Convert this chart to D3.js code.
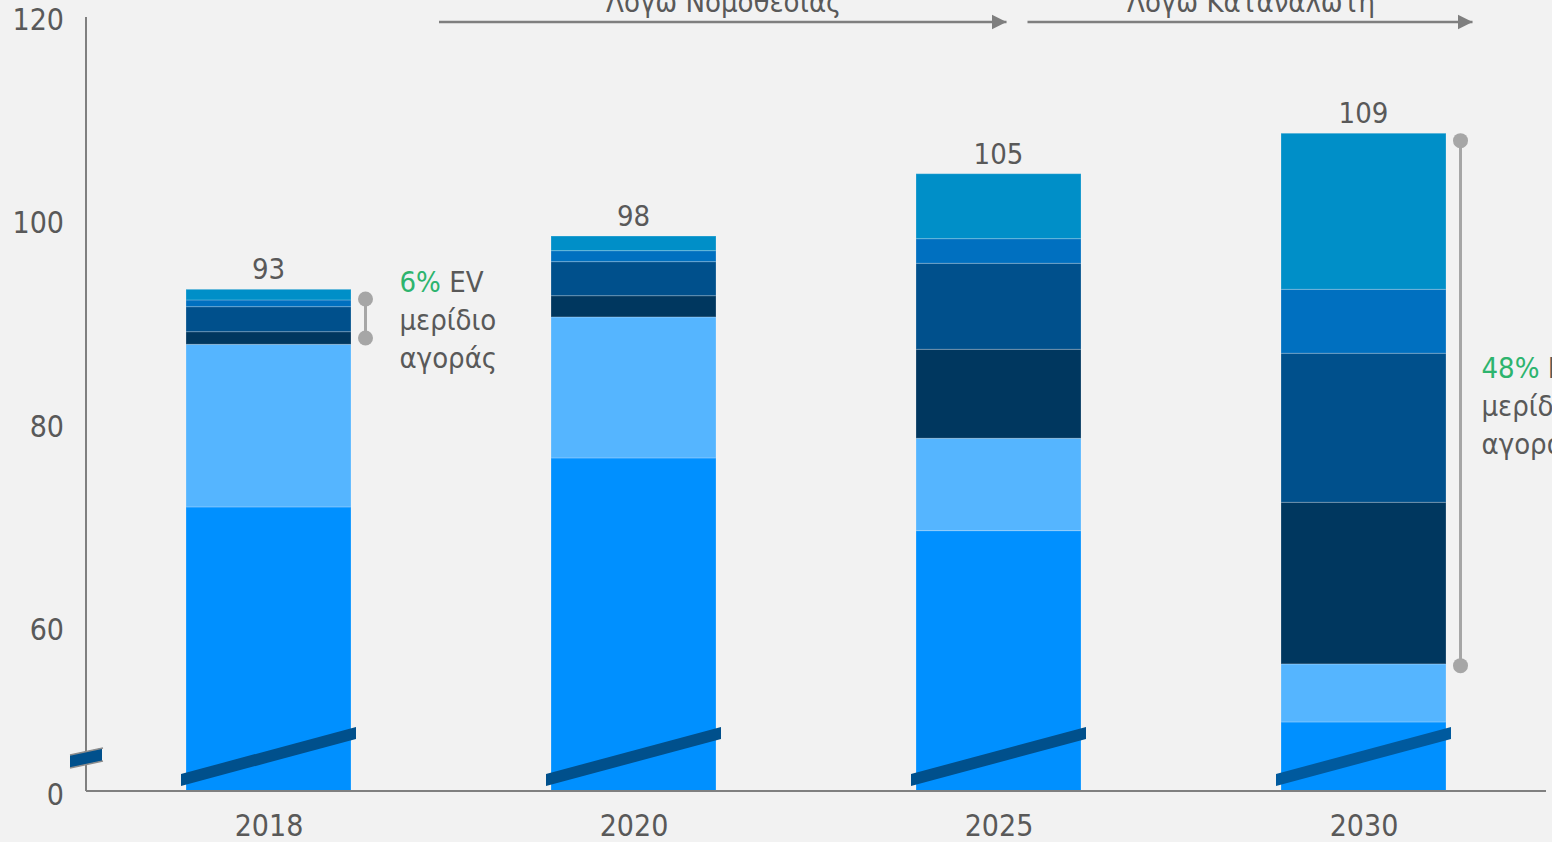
<!DOCTYPE html>
<html><head><meta charset="utf-8">
<script src="https://cdn.jsdelivr.net/npm/d3@7"></script>
<style>
html,body{margin:0;padding:0;background:#F2F2F2;overflow:hidden}
svg{display:block}
text{font-family:"DejaVu Sans Condensed","DejaVu Sans",sans-serif;font-stretch:condensed;fill:#595959}
</style></head><body>
<svg id="chart" width="1552" height="842"></svg>
<script>
// ---- data ----
const years = ["2018","2020","2025","2030"];
const totalLabels = ["93","98","105","109"];
const s1 = [72.10, 76.92, 69.77, 50.95];   // bottom
const s2 = [16.00, 13.87, 9.09, 5.71];
const s3 = [1.24, 2.09, 8.75, 15.90];
const s4 = [2.46, 3.35, 8.46, 14.66];
const s5 = [0.66, 1.08, 2.42, 6.29];
const s6 = [1.05, 1.44, 6.39, 15.35];      // top
const seriesList = [s1,s2,s3,s4,s5,s6];
const seriesColors = ["#0090FF","#55B5FF","#00375F","#00508C","#0070C0","#008FC8"];
const yTicks = [60,80,100,120];
const zeroLabel = "0";
const axisMin = 44.16, axisMax = 120;
const evShares = [{year:"2018", pct:"6%", low:88.72, high:92.56, textTop:93.25},
                  {year:"2030", pct:"48%", low:56.49, high:108.13, textTop:84.79}];
const evWords = ["EV","μερίδιο","αγοράς"];
const headerTexts = ["Λόγω Νομοθεσίας","Λόγω Καταναλωτή"];

(function(){
// ---- layout ----
const W = 1552, H = 842;
const mLeft = 86, mRight = 1546, mTop = 20, base = 791;
const svg = d3.select("#chart");
svg.append("rect").attr("width",W).attr("height",H).attr("fill","#F2F2F2");

const x = d3.scalePoint().domain(years).range([mLeft,mRight]).padding(0.5);
const barW = 165;
const y = d3.scaleLinear().domain([axisMin,axisMax]).range([base,mTop]).clamp(true);

const rows = years.map((yr,i)=>{const o={year:yr}; seriesList.forEach((s,j)=>o["s"+j]=s[i]); return o;});
const keys = seriesList.map((s,j)=>"s"+j);
const stacked = d3.stack().keys(keys)(rows);

// bars
const g = svg.append("g");
stacked.forEach((layer,j)=>{
  g.selectAll(null).data(layer).enter().append("rect")
    .attr("x",d=>x(d.data.year)-barW/2)
    .attr("width",barW)
    .attr("y",d=>y(d[1]))
    .attr("height",d=>y(d[0])-y(d[1]))
    .attr("fill",seriesColors[j])
    .attr("stroke","rgba(255,255,255,0.22)").attr("stroke-width",1);
});

// axes
const axisColor = "#808080";
svg.append("line").attr("x1",mLeft).attr("x2",mRight).attr("y1",base).attr("y2",base)
  .attr("stroke",axisColor).attr("stroke-width",2);
svg.append("line").attr("x1",mLeft).attr("x2",mLeft).attr("y1",mTop-3).attr("y2",base)
  .attr("stroke",axisColor).attr("stroke-width",2);

const yAxis = d3.axisLeft(y).tickValues(yTicks).tickSize(0).tickPadding(22);
const ya = svg.append("g").attr("transform",`translate(${mLeft},0)`).call(yAxis);
ya.select(".domain").remove();
ya.attr("font-family",null).attr("font-size",null);
ya.selectAll("text").style("font-size","30px").attr("fill","#595959");
svg.append("text").attr("x",mLeft-22).attr("y",base+14).attr("text-anchor","end")
  .style("font-size","30px").text(zeroLabel);

const xAxis = d3.axisBottom(x).tickSize(0).tickPadding(20);
const xa = svg.append("g").attr("transform",`translate(0,${base})`).call(xAxis);
xa.select(".domain").remove();
xa.attr("font-family",null).attr("font-size",null);
xa.selectAll("text").style("font-size","30px").attr("fill","#595959")
  .attr("dy",null).attr("y",45);

// break mark on axis
svg.append("polygon")
  .attr("points",[[mLeft-16,base-36],[mLeft+16,base-43],[mLeft+16,base-30],[mLeft-16,base-23]].map(p=>p.join(",")).join(" "))
  .attr("fill","#00508C");
[[-36,-43],[-23,-30]].forEach(([a,b])=>{
  svg.append("line").attr("x1",mLeft-16).attr("y1",base+a).attr("x2",mLeft+17).attr("y2",base+b)
    .attr("stroke","#8C8C8C").attr("stroke-width",1.5);
});

// break strips on bars
years.forEach((yr,i)=>{
  const x0 = x(yr)-barW/2-5, x1 = x(yr)+barW/2+5;
  svg.append("polygon")
    .attr("points",[[x0,base-17],[x1,base-64],[x1,base-52],[x0,base-5]].map(p=>p.join(",")).join(" "))
    .attr("fill", i===3 ? "#005A9E" : "#00508C");
});

// total labels
svg.selectAll(".tot").data(years).enter().append("text")
  .attr("x",d=>x(d)).attr("y",(d,i)=>y(d3.sum(seriesList,s=>s[i]))-10)
  .attr("text-anchor","middle").style("font-size","29px")
  .text((d,i)=>totalLabels[i]);

// EV share brackets
const textGaps = [34, 21];
evShares.forEach((a,k)=>{
  const bx = x(a.year)+barW/2+14.5;
  svg.append("line").attr("x1",bx).attr("x2",bx).attr("y1",y(a.high)).attr("y2",y(a.low))
    .attr("stroke","#A6A6A6").attr("stroke-width",3);
  [a.high,a.low].forEach(v=>svg.append("circle").attr("cx",bx).attr("cy",y(v)).attr("r",7.5).attr("fill","#A6A6A6"));
  const tx = bx+textGaps[k], ty = y(a.textTop);
  const t = svg.append("text").attr("x",tx).attr("y",ty).style("font-size","29px");
  t.append("tspan").style("fill","#2DB46E").text(a.pct);
  t.append("tspan").text(" "+evWords[0]);
  svg.append("text").attr("x",tx).attr("y",ty+38).style("font-size","29px").text(evWords[1]);
  svg.append("text").attr("x",tx).attr("y",ty+76).style("font-size","29px").text(evWords[2]);
});

// header arrows
const defs = svg.append("defs");
defs.append("marker").attr("id","arr").attr("viewBox","0 0 10 10").attr("refX",10).attr("refY",5)
  .attr("markerWidth",15).attr("markerHeight",16).attr("markerUnits","userSpaceOnUse").attr("orient","auto")
  .append("path").attr("d","M0,0L10,5L0,10Z").attr("fill","#7F7F7F");
const arrows = [
  {x1: (x(years[0])+x(years[1]))/2 - 12, x2: x(years[2])+10, text: headerTexts[0]},
  {x1: x(years[2])+29, x2: x(years[3])+111, text: headerTexts[1]}
];
arrows.forEach(a=>{
  svg.append("line").attr("x1",a.x1).attr("x2",a.x2-2).attr("y1",22).attr("y2",22)
    .attr("stroke","#7F7F7F").attr("stroke-width",2.5).attr("marker-end","url(#arr)");
  svg.append("text").attr("x",(a.x1+a.x2)/2).attr("y",12).attr("text-anchor","middle")
    .style("font-size","29px").text(a.text);
});
})();
</script>
</body></html>
